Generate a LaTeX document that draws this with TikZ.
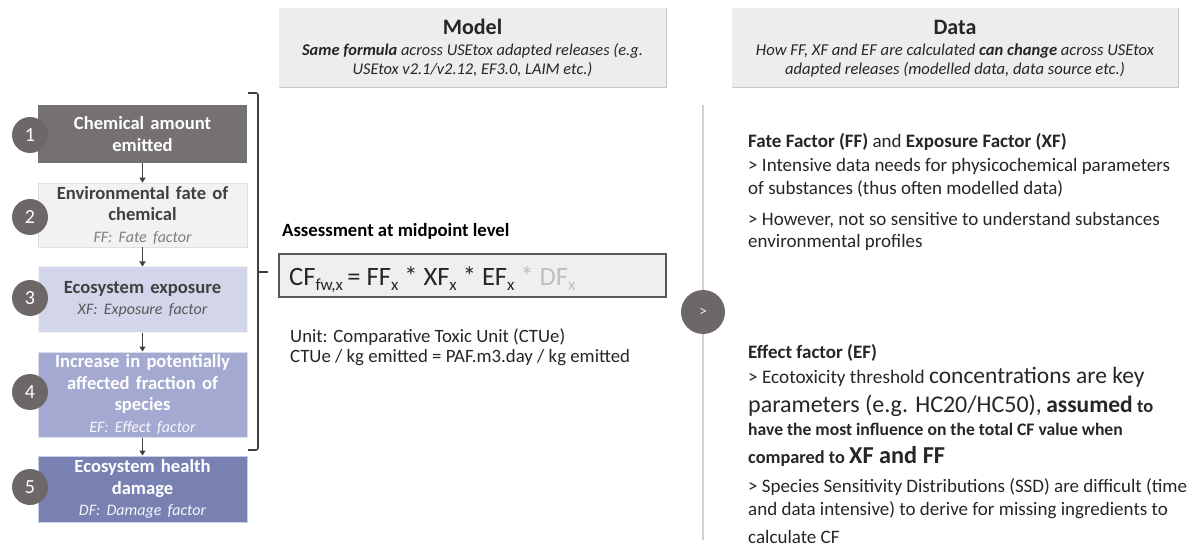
\documentclass[tikz,border=0pt]{standalone}
\usepackage{fontspec}
\setmainfont{Carlito}
\usetikzlibrary{arrows.meta}
\definecolor{circc}{HTML}{6E6767}
\definecolor{boxa}{HTML}{767171}
\definecolor{boxb}{HTML}{F2F2F2}
\definecolor{boxc}{HTML}{D3D6EA}
\definecolor{boxd}{HTML}{A3A9D0}
\definecolor{boxe}{HTML}{7981B3}
\definecolor{hdrc}{HTML}{EDEDED}
\definecolor{hdrs}{HTML}{C9C9C9}
\definecolor{frmc}{HTML}{EFEFEF}
\definecolor{frmb}{HTML}{595959}
\definecolor{darkt}{HTML}{404040}
\definecolor{midt}{HTML}{7F7F7F}
\definecolor{txt}{HTML}{262626}
\definecolor{vlc}{HTML}{D0D0D0}
\definecolor{dfc}{HTML}{BFBFBF}
\newcommand\fsz[2]{\fontsize{#1}{#2}\selectfont}
\newcommand\subx[1]{\raisebox{-4.8pt}{\fsz{17}{17}#1}}
\newcommand\subtf{\fsz{16}{21.5}\mdseries\itshape}
\begin{document}
\begin{tikzpicture}[x=1pt,y=-1pt,
  stepbox/.style={rectangle, minimum width=209pt, text width=205pt, align=center, inner sep=0pt, font=\fsz{18.6}{21.5}\bfseries},
  numc/.style={circle, fill=circc, minimum size=36pt, inner sep=0pt, text=white, font=\fsz{20}{20}},
  arr/.style={draw=darkt, line width=1.2pt, -{Triangle[length=5pt,width=6pt]}},
  hdr/.style={rectangle, fill=hdrc, minimum width=387pt, minimum height=79pt, inner sep=0pt},
  hdrsh/.style={draw=hdrs, line width=1pt},
  rline/.style={anchor=base west, inner sep=0pt, text=txt, font=\fsz{19}{19}}
]
\useasboundingbox (0,0) rectangle (1188,553);
\fill[white] (0,0) rectangle (1188,553);

% headers
\node[hdr] (mh) at (472.5,47.5) {};
\draw[hdrsh] (mh.north east) -- (mh.south east) -- (mh.south west);
\node[hdr, minimum width=446pt] (dh) at (955,47.5) {};
\draw[hdrsh] (dh.north east) -- (dh.south east) -- (dh.south west);
\node[anchor=base, inner sep=0pt, text=txt, font=\fsz{22}{22}\bfseries] (mt) at (472.5,35) {Model};
\node[anchor=base, inner sep=0pt, text=txt, font=\fsz{16.4}{19}\itshape] (ms) at (472.5,56) {\textbf{Same formula} across USEtox adapted releases (e.g.};
\node[anchor=base, inner sep=0pt, text=txt, font=\fsz{16.4}{19}\itshape] (ms2) at (472.5,75) {USEtox v2.1/v2.12, EF3.0, LAIM etc.)};
\node[anchor=base, inner sep=0pt, text=txt, font=\fsz{22}{22}\bfseries] (dt) at (955,35) {Data};
\node[anchor=base, inner sep=0pt, text=txt, font=\fsz{16.6}{19}\itshape] (ds) at (955,56) {How FF, XF and EF are calculated \textbf{can change} across USEtox};
\node[anchor=base, inner sep=0pt, text=txt, font=\fsz{16.6}{19}\itshape] (ds2) at (955,75) {adapted releases (modelled data, data source etc.)};

% left boxes
\node[stepbox, fill=boxa, minimum height=58pt, text=white] (b1) at (142.5,134) {Chemical amount\\emitted};
\node[stepbox, fill=boxb, draw=black!12, line width=0.6pt, minimum height=64pt, text=darkt] (b2) at (142.5,215) {Environmental fate of\\chemical\\{\subtf\color{midt}FF: Fate factor}};
\node[stepbox, fill=boxc, draw=white!70!boxc, line width=1pt, minimum height=65pt, text=darkt] (b3) at (142.5,299.5) {Ecosystem exposure\\{\subtf\color{frmb}XF: Exposure factor}};
\node[stepbox, fill=boxd, draw=white!60!boxd, line width=1pt, minimum height=85pt, text=white] (b4) at (142.5,394.5) {Increase in potentially\\affected fraction of\\species\\{\subtf\color{white!92!boxd}EF: Effect factor}};
\node[stepbox, fill=boxe, draw=white!60!boxe, line width=1pt, minimum height=66pt, text=white] (b5) at (142.5,489) {Ecosystem health\\damage\\{\subtf\color{white!92!boxe}DF: Damage factor}};

\draw[arr] (b1.south) -- (b2.north);
\draw[arr] (b2.south) -- (b3.north);
\draw[arr] (b3.south) -- (b4.north);
\draw[arr] (b4.south) -- (b5.north);

\node[numc] (n1) at (30,135) {1};
\node[numc] (n2) at (30,217) {2};
\node[numc] (n3) at (30,298) {3};
\node[numc] (n4) at (30,392) {4};
\node[numc] (n5) at (30,487) {5};

% brace
\coordinate (bt) at (248,93);
\coordinate (bb) at (248,450);
\coordinate (bm) at (268,272);
\draw[draw=darkt, line width=1.6pt, rounded corners=2pt] (bt) -- (258,93) -- (258,450) -- (bb);
\draw[draw=darkt, line width=1.6pt] (258,272) -- (bm);

% model column
\node[anchor=base west, inner sep=0pt, text=black, font=\fsz{18.7}{18.7}\bfseries] (asm) at (282,237) {Assessment at midpoint level};
\node[rectangle, fill=frmc, draw=frmb, line width=1.3pt, minimum width=387pt, minimum height=43pt, inner sep=0pt] (fb) at (472.5,275.5) {};
\node[anchor=base west, inner sep=0pt, text=txt, font=\fsz{26.5}{26.5}] (fm) at (289,286) {CF\subx{fw,x}\,= FF\subx{x} * XF\subx{x} * EF\subx{x} {\color{dfc}* DF\subx{x}}};
\node[anchor=base west, inner sep=0pt, text=txt, font=\fsz{18.8}{18.8}] (u1) at (290,342) {Unit: Comparative Toxic Unit (CTUe)};
\node[anchor=base west, inner sep=0pt, text=txt, font=\fsz{18.8}{18.8}] (u2) at (290,362) {CTUe / kg emitted = PAF.m3.day / kg emitted};

% separator and circle
\node[circle, fill=circc, minimum size=44pt, inner sep=0pt, text=white!85!circc, font=\fsz{16}{16}] (gc) at (703,312) {>};
\coordinate (vt) at (703,105);
\coordinate (vb) at (703,540);
\draw[draw=vlc, line width=2pt] (vt) -- (gc.north);
\draw[draw=vlc, line width=2pt] (gc.south) -- (vb);

% data column
\node[rline] (r1) at (748,148) {\textbf{Fate Factor (FF)} and \textbf{Exposure Factor (XF)}};
\node[rline] (r2) at (748,172) {> Intensive data needs for physicochemical parameters};
\node[rline] (r3) at (748,195) {of substances (thus often modelled data)};
\node[rline] (r4) at (748,226) {> However, not so sensitive to understand substances};
\node[rline] (r5) at (748,248) {environmental profiles};

\node[rline] (e1) at (748,358) {\textbf{Effect factor (EF)}};
\node[rline] (e2) at (748,383) {{\fsz{19.2}{19.2}> Ecotoxicity threshold} {\fsz{23.5}{23.5}concentrations are key}};
\node[rline] (e3) at (748,412) {{\fsz{24}{24}parameters (e.g. HC20/HC50),} {\fsz{23.5}{23.5}\bfseries assumed} {\fsz{18.5}{18.5}\bfseries to}};
\node[rline] (e4) at (748,435) {\fsz{17.6}{17.6}\bfseries have the most influence on the total CF value when};
\node[rline] (e5) at (748,463) {{\fsz{18.3}{18.3}\bfseries compared to} {\fsz{24.3}{24.3}\bfseries XF and FF}};
\node[rline] (e6) at (748,492) {> Species Sensitivity Distributions (SSD) are difficult (time};
\node[rline] (e7) at (748,515) {and data intensive) to derive for missing ingredients to};
\node[rline] (e8) at (748,543) {calculate CF};
\end{tikzpicture}
\end{document}
